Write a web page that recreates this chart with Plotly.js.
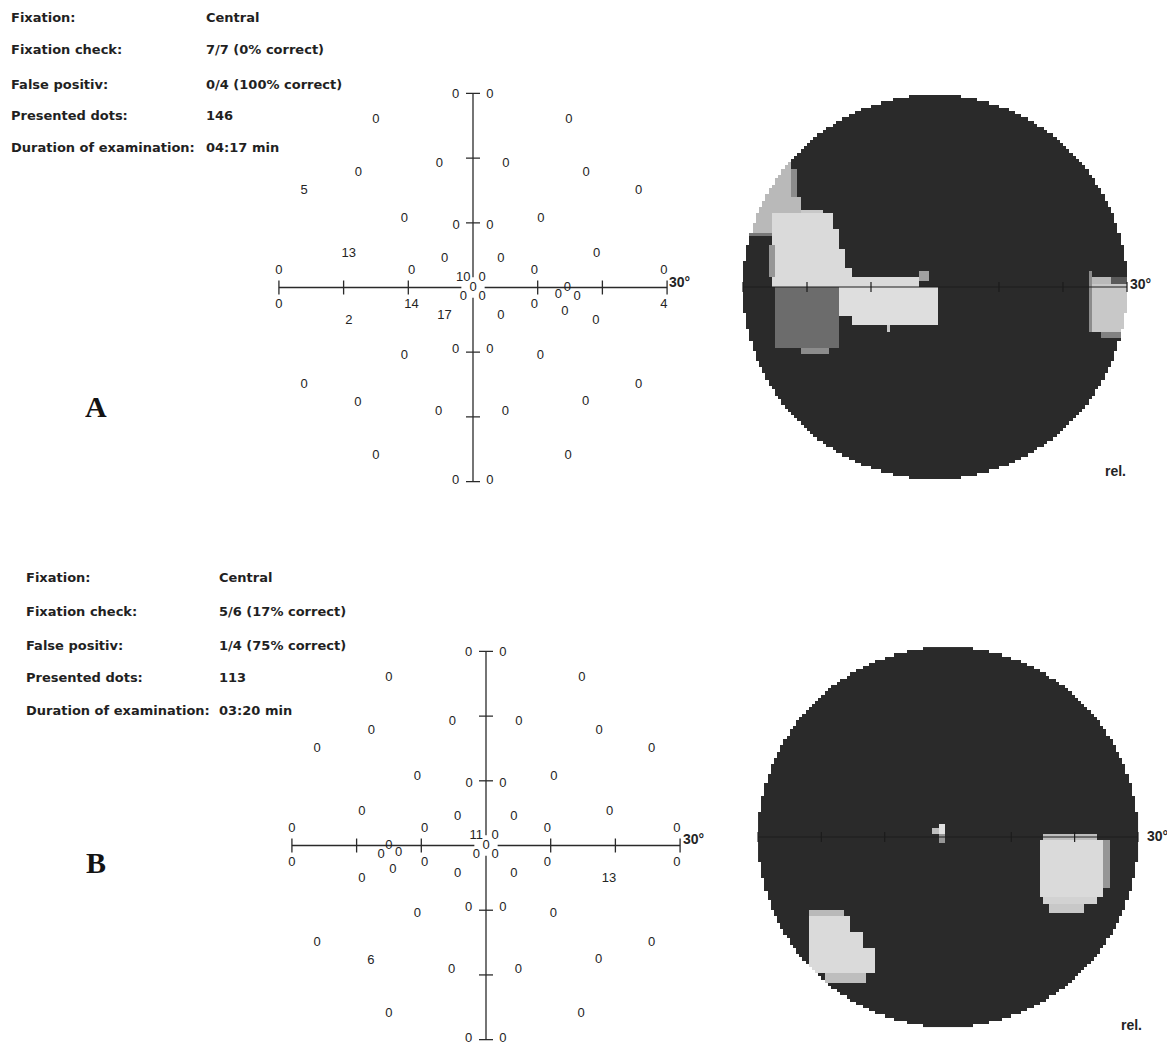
<!DOCTYPE html>
<html>
<head>
<meta charset="utf-8">
<script src="https://cdn.plot.ly/plotly-3.0.1.min.js"></script>
<style>
html,body{margin:0;padding:0;background:#fff;}
#chart{width:1167px;height:1047px;}
#chart svg text{opacity:0.99 !important;}
</style>
</head>
<body>
<div id="chart"></div>
<script>
// ---------- DATA ----------
// test point grid (degrees of visual field), shared by both examinations
const gridX = [-2.7, 2.6, -15, 14.8, -5.2, 5.1, -17.7, 17.5, -26.1, 25.6, -10.6, 10.5, -2.6, 2.6, -19.2, 19.1, -4.4, 4.3, -30, -9.5, -1.5, 1.4, 9.5, 29.5, 0, -1.5, 1.4, -30, -9.5, 9.5, 29.5, -19.2, 19.0, -4.4, 4.3, -2.7, 2.6, -10.6, 10.4, -26.1, 25.6, -17.8, 17.4, -5.3, 5.0, -15, 14.7, -2.7, 2.6];
const gridY = [29.8, 29.8, 26, 26, 19.2, 19.2, 17.7, 17.7, 15, 15, 10.6, 10.6, 9.6, 9.6, 5.2, 5.2, 4.4, 4.4, 2.6, 2.6, 1.5, 1.5, 2.6, 2.6, 0, -1.4, -1.4, -2.6, -2.6, -2.6, -2.6, -5.2, -5.2, -4.3, -4.3, -9.6, -9.6, -10.6, -10.6, -15.1, -15.1, -17.8, -17.7, -19.2, -19.2, -26, -26, -29.8, -29.8];
const valuesA = [0,0,0,0,0,0,0,0,5,0, 0,0,0,0,13,0,0,0,0,0, 10,0,0,0,0,0,0,0,14,0, 4,2,0,17,0,0,0,0,0,0, 0,0,0,0,0,0,0,0,0];
const valuesB = [0,0,0,0,0,0,0,0,0,0, 0,0,0,0,0,0,0,0,0,0, 11,0,0,0,0,0,0,0,0,0, 0,0,13,0,0,0,0,0,0,0, 0,6,0,0,0,0,0,0,0];
// blind spot test points
const blindAX = [14.6, 13.2, 16.1, 14.2];
const blindAY = [0, -1.1, -1.4, -3.8];
const blindAV = [0, 0, 0, 0];
const blindBX = [-15, -13.5, -16.2, -14.4];
const blindBY = [0, -1.1, -1.4, -3.7];
const blindBV = [0, 0, 0, 0];

const axisTicks = [-30, -20, -10, 10, 20, 30];

const infoLabels = ['Fixation:', 'Fixation check:', 'False positiv:', 'Presented dots:', 'Duration of examination:'];
const infoA = ['Central', '7/7 (0% correct)', '0/4 (100% correct)', '146', '04:17 min'];
const infoB = ['Central', '5/6 (17% correct)', '1/4 (75% correct)', '113', '03:20 min'];

// grey-scale map patches: [x0, x1, y0, y1, grey level]
const mapBackground = 42;
const patchesA = [
  [-31,-22.4,18.3,21,185],
  [-31,-22.4,16.7,18.3,185],
  [-31,-22.4,14.1,16.7,185],
  [-22.4,-21.6,14.1,18.3,140],
  [-31,-20.8,12.3,14.1,185],
  [-31,-20.8,8.6,12.3,185],
  [-31,-25.0,7.9,8.6,120],
  [-20.8,-17.4,11.3,12.0,200],
  [-25.3,-16.1,8.9,11.3,218],
  [-25.3,-15.1,5.8,8.9,218],
  [-25.3,-14.1,3.2,5.8,218],
  [-25.3,-13.0,1.6,3.2,218],
  [-25.3,-2.3,0,1.6,218],
  [-25.8,-25.0,1.6,6.3,150],
  [-2.3,-0.8,0.8,2.7,160],
  [-25.0,-14.8,-9.3,0,108],
  [-20.8,-16.5,-10.4,-9.3,140],
  [-15.1,0.3,-4.6,0,222],
  [-12.8,0.3,-6.2,-4.6,222],
  [-7.6,-6.8,-7.0,-6.2,200],
  [24.0,24.7,-7.0,2.7,140],
  [24.7,31,-7.0,0.3,200],
  [24.7,27.4,0.3,1.6,185],
  [27.4,31,0.3,1.6,90],
  [25.8,28.9,-7.8,-7.0,130]
];
const patchesB = [
  [-1.5,-0.5,0.3,2.2,225],
  [-2.3,-1.5,0.3,1.4,190],
  [-1.5,-0.5,-0.8,0.3,150],
  [15.1,23.5,-0.5,0.3,190],
  [14.3,24.5,-9.4,-0.5,218],
  [24.5,25.3,-8.0,-0.5,150],
  [15.1,23.5,-10.5,-9.4,210],
  [16.1,21.4,-11.8,-10.5,200],
  [-21.8,-16.5,-12.3,-11.3,185],
  [-22.1,-15.5,-15.2,-12.3,218],
  [-22.1,-13.4,-17.3,-15.2,218],
  [-22.1,-11.3,-21.5,-17.3,218],
  [-19.7,-12.8,-22.8,-21.5,190]
];
const fieldRadius = 30;
const cellSize = 0.5;

// ---------- BUILD ----------
const W = 1167, H = 1047;
function xd(a, b) { return [a / W, b / W]; }
function yd(top, bottom) { return [1 - bottom / H, 1 - top / H]; }

function buildMap(patches) {
  const n = Math.round(2 * fieldRadius / cellSize);
  const cx = [], cy = [], z = [];
  for (let i = 0; i < n; i++) { cx.push(-fieldRadius + cellSize * (i + 0.5)); cy.push(-fieldRadius + cellSize * (i + 0.5)); }
  for (let j = 0; j < n; j++) {
    const row = [];
    for (let i = 0; i < n; i++) {
      const x = cx[i], y = cy[j];
      if (x * x + y * y > fieldRadius * fieldRadius) { row.push(null); continue; }
      let v = mapBackground;
      for (const p of patches) {
        if (x >= p[0] && x <= p[1] && y >= p[2] && y <= p[3]) v = p[4];
      }
      row.push(v);
    }
    z.push(row);
  }
  return { x: cx, y: cy, z: z };
}

const numFont = { family: 'Liberation Sans, Arial, sans-serif', size: 13, color: '#222' };
const lineCol = '#2a2a2a';

function fieldTraces(xa, ya, vals, bx, by, bv) {
  const tr = [];
  tr.push({ type: 'scatter', mode: 'lines', x: [-30, -1.8, null, 1.8, 30], y: [0, 0, null, 0, 0],
    line: { color: lineCol, width: 1.3 }, xaxis: xa, yaxis: ya, hoverinfo: 'skip', showlegend: false });
  tr.push({ type: 'scatter', mode: 'lines', x: [0, 0, null, 0, 0], y: [30, 1.6, null, -1.6, -30],
    line: { color: lineCol, width: 1.3 }, xaxis: xa, yaxis: ya, hoverinfo: 'skip', showlegend: false });
  tr.push({ type: 'scatter', mode: 'markers', x: axisTicks, y: axisTicks.map(() => 0),
    marker: { symbol: 'line-ns', size: 10, line: { color: lineCol, width: 1.3 } },
    xaxis: xa, yaxis: ya, hoverinfo: 'skip', showlegend: false });
  tr.push({ type: 'scatter', mode: 'markers', x: axisTicks.map(() => 0), y: axisTicks,
    marker: { symbol: 'line-ew', size: 10, line: { color: lineCol, width: 1.3 } },
    xaxis: xa, yaxis: ya, hoverinfo: 'skip', showlegend: false });
  tr.push({ type: 'scatter', mode: 'text', x: gridX.concat(bx), y: gridY.concat(by),
    text: vals.concat(bv).map(String), textposition: 'middle center', textfont: numFont,
    cliponaxis: false, xaxis: xa, yaxis: ya, hoverinfo: 'skip', showlegend: false });
  return tr;
}

function mapTraces(xa, ya, patches) {
  const m = buildMap(patches);
  return [
    { type: 'heatmap', x: m.x, y: m.y, z: m.z, zmin: 0, zmax: 255,
      colorscale: [[0, 'rgb(0,0,0)'], [1, 'rgb(255,255,255)']], showscale: false,
      xaxis: xa, yaxis: ya, hoverinfo: 'skip' },
    { type: 'scatter', mode: 'lines', x: [-30, 30], y: [0, 0], line: { color: '#1c1c1c', width: 1.2 },
      xaxis: xa, yaxis: ya, hoverinfo: 'skip', showlegend: false },
    { type: 'scatter', mode: 'markers', x: axisTicks, y: axisTicks.map(() => 0),
      marker: { symbol: 'line-ns', size: 7, line: { color: '#1c1c1c', width: 1.2 } },
      xaxis: xa, yaxis: ya, hoverinfo: 'skip', showlegend: false }
  ];
}

const data = []
  .concat(fieldTraces('x', 'y', valuesA, blindAX, blindAY, blindAV))
  .concat(mapTraces('x2', 'y2', patchesA))
  .concat(fieldTraces('x3', 'y3', valuesB, blindBX, blindBY, blindBV))
  .concat(mapTraces('x4', 'y4', patchesB));

const hid = { visible: false, fixedrange: true };
const layout = {
  width: W, height: H, margin: { l: 0, r: 0, t: 0, b: 0 },
  paper_bgcolor: '#fff', plot_bgcolor: 'rgba(0,0,0,0)', showlegend: false,
  xaxis: Object.assign({}, hid, { domain: xd(240.1, 705.9), range: [-36, 36], anchor: 'y' }),
  yaxis: Object.assign({}, hid, { domain: yd(80.5, 494.5), range: [-32, 32], anchor: 'x' }),
  xaxis2: Object.assign({}, hid, { domain: xd(730.2, 1139.8), range: [-32, 32], anchor: 'y2' }),
  yaxis2: Object.assign({}, hid, { domain: yd(82.2, 491.8), range: [-32, 32], anchor: 'x2' }),
  xaxis3: Object.assign({}, hid, { domain: xd(253.1, 718.9), range: [-36, 36], anchor: 'y3' }),
  yaxis3: Object.assign({}, hid, { domain: yd(641.7, 1046.1), range: [-31, 31.5], anchor: 'x3' }),
  xaxis4: Object.assign({}, hid, { domain: xd(745.4, 1150.6), range: [-32, 32], anchor: 'y4' }),
  yaxis4: Object.assign({}, hid, { domain: yd(634.4, 1039.6), range: [-32, 32], anchor: 'x4' }),
  annotations: []
};

const infoFont = { family: 'DejaVu Sans, Arial, sans-serif', size: 13, color: '#1e1e1e' };
function addText(px, py, text, font, xanchor) {
  layout.annotations.push({ xref: 'paper', yref: 'paper', x: px / W, y: 1 - py / H, text: text,
    showarrow: false, xanchor: xanchor || 'left', yanchor: 'middle', font: font, borderpad: 0 });
}
const rowsA = [17, 50, 84, 115, 148];
const rowsB = [577, 611, 645, 677, 710];
infoLabels.forEach((t, i) => { addText(10, rowsA[i], '<b>' + t + '</b>', infoFont); addText(205, rowsA[i], '<b>' + infoA[i] + '</b>', infoFont); });
infoLabels.forEach((t, i) => { addText(25, rowsB[i], '<b>' + t + '</b>', infoFont); addText(218, rowsB[i], '<b>' + infoB[i] + '</b>', infoFont); });

const degFont = { family: 'Liberation Sans, Arial, sans-serif', size: 14, color: '#222' };
addText(668, 282, '<b>30°</b>', degFont);
addText(682, 839, '<b>30°</b>', degFont);
addText(1129, 284, '<b>30°</b>', degFont);
addText(1146, 836, '<b>30°</b>', degFont);
addText(1115, 471, '<b>rel.</b>', degFont, 'center');
addText(1131, 1025, '<b>rel.</b>', degFont, 'center');

const letterFont = { family: 'Liberation Serif, Times New Roman, serif', size: 30, color: '#111' };
addText(96, 407, '<b>A</b>', letterFont, 'center');
addText(96, 862, '<b>B</b>', letterFont, 'center');

Plotly.newPlot('chart', data, layout, { staticPlot: true, displayModeBar: false });
</script>
</body>
</html>
